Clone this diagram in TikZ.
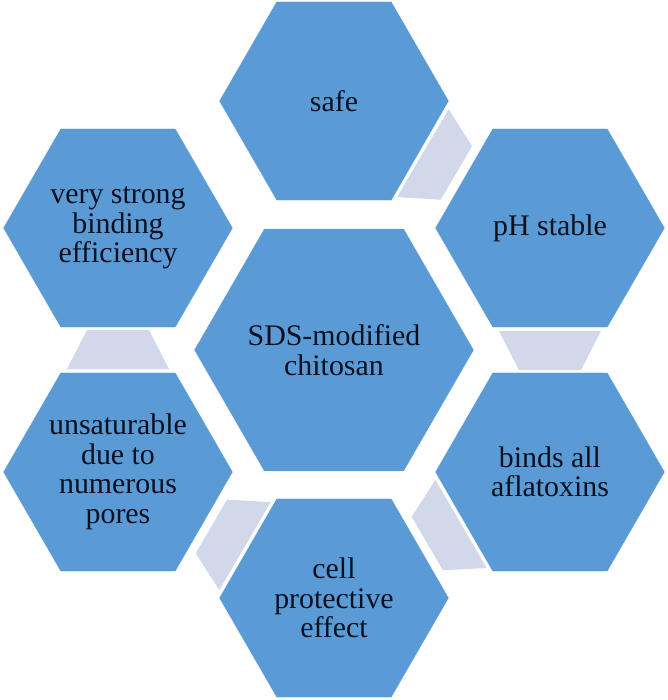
\documentclass[tikz,border=0pt]{standalone}
\usepackage{fontspec}
\setmainfont{Liberation Serif}
\usetikzlibrary{calc}
\definecolor{hexblue}{HTML}{5B9BD5}
\definecolor{conn}{HTML}{D0D8EA}
\definecolor{txt}{HTML}{0A1020}
\tikzset{
  hexlabel/.style={align=center,text=txt,font=\fontsize{85}{84}\selectfont,inner sep=0pt},
  hexfill/.style={fill=hexblue,draw=white,line width=1pt},
  connfill/.style={fill=conn,draw=none}
}
\newcommand{\myhex}[5]{%
  \fill[hexfill] ($(#2,#3)+(0:#4)$) -- ($(#2,#3)+(60:#4)$) -- ($(#2,#3)+(120:#4)$) -- ($(#2,#3)+(180:#4)$) -- ($(#2,#3)+(240:#4)$) -- ($(#2,#3)+(300:#4)$) -- cycle;
  \node[hexlabel] (#1) at (#2,#3) {#5};}
\newcommand{\myconn}[2]{%
  \fill[connfill] ($(#1)!103mm!(#2)!51mm!90:(#2)$) -- ($(#1)!103mm!(#2)!51mm!-90:(#2)$) -- ($(#1)!142mm!(#2)!31mm!-90:(#2)$) -- ($(#1)!142mm!(#2)!31mm!90:(#2)$) -- cycle;}
\begin{document}
\begin{tikzpicture}[x=1mm,y=-1mm]
\useasboundingbox (0,0) rectangle (668,700);
\coordinate (cs) at (334,101);
\coordinate (cp) at (550,228);
\coordinate (cb) at (550,472);
\coordinate (cc) at (334,598);
\coordinate (cu) at (118,472);
\coordinate (cv) at (118,228);
\myconn{cs}{cp}
\myconn{cp}{cb}
\myconn{cb}{cc}
\myconn{cc}{cu}
\myconn{cu}{cv}
\myhex{center}{334}{350}{140}{SDS-modified\\chitosan}
\myhex{safe}{334}{101}{115}{safe}
\myhex{ph}{550}{228}{115}{pH stable}
\myhex{binds}{550}{472}{115}{binds all\\aflatoxins}
\myhex{cell}{334}{598}{115}{cell\\protective\\effect}
\myhex{unsat}{118}{472}{115}{unsaturable\\due to\\numerous\\pores}
\myhex{very}{118}{228}{115}{very strong\\binding\\efficiency}
\end{tikzpicture}
\end{document}
